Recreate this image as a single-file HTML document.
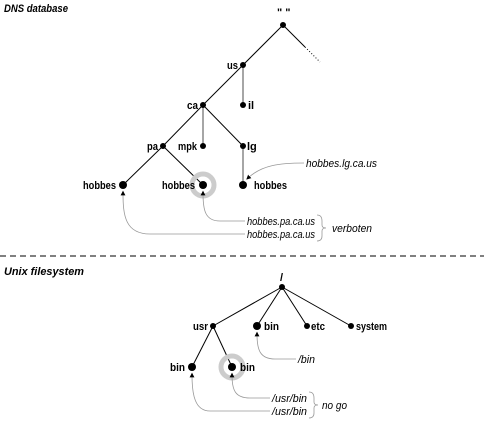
<!DOCTYPE html>
<html><head><style>body{margin:0;background:#fff}svg{display:block}
text{font-family:"Liberation Sans",sans-serif;font-size:11px}
.b{font-weight:bold}.i{font-style:italic}</style></head><body>
<svg width="484" height="421" viewBox="0 0 484 421">
<defs><marker id="a" markerWidth="6" markerHeight="6" refX="3" refY="3" orient="auto"><path d="M0,0L6,3L0,6z" fill="#000"/></marker></defs>
<text x="4" y="12" class="b i" textLength="64" lengthAdjust="spacingAndGlyphs">DNS database</text>
<text x="4" y="275" class="b i" textLength="80" lengthAdjust="spacingAndGlyphs">Unix filesystem</text>
<line x1="0" y1="256" x2="484" y2="256" stroke="#000" stroke-dasharray="6,4"/>
<g stroke="#000" stroke-width="1">
<line x1="283" y1="25" x2="243" y2="65"/><line x1="243" y1="65" x2="203" y2="105"/>
<line x1="203" y1="105" x2="163" y2="146"/><line x1="203" y1="105" x2="243" y2="146"/>
<line x1="163" y1="146" x2="123" y2="185"/><line x1="163" y1="146" x2="203" y2="185"/>
<line x1="283" y1="25" x2="305" y2="47"/><line x1="305" y1="47" x2="320" y2="62" stroke-dasharray="1,2"/>
<line x1="282" y1="287" x2="213" y2="326"/><line x1="282" y1="287" x2="257" y2="326"/>
<line x1="282" y1="287" x2="307" y2="326"/><line x1="282" y1="287" x2="351" y2="326"/>
<line x1="213" y1="326" x2="192" y2="367"/><line x1="213" y1="326" x2="232" y2="367"/>
</g>
<g stroke="#888" stroke-width="1.5">
<line x1="243" y1="65" x2="243" y2="105"/><line x1="203" y1="105" x2="203" y2="146"/><line x1="243" y1="146" x2="243" y2="185"/>
</g>
<circle cx="203" cy="185" r="11" fill="none" stroke="#ccc" stroke-width="5"/>
<circle cx="232" cy="367" r="11" fill="none" stroke="#ccc" stroke-width="5"/>
<g fill="#000">
<circle cx="283" cy="25" r="3"/><circle cx="243" cy="65" r="3"/><circle cx="243" cy="105" r="3"/><circle cx="203" cy="105" r="3"/>
<circle cx="163" cy="146" r="3"/><circle cx="203" cy="146" r="3"/><circle cx="243" cy="146" r="3"/>
<circle cx="123" cy="185" r="4"/><circle cx="203" cy="185" r="4"/><circle cx="243" cy="185" r="4"/>
<circle cx="282" cy="287" r="3"/><circle cx="213" cy="326" r="3"/><circle cx="257" cy="326" r="4"/><circle cx="307" cy="326" r="3"/><circle cx="351" cy="326" r="3"/>
<circle cx="192" cy="367" r="4"/><circle cx="232" cy="367" r="4"/>
</g>
<g class="b">
<text x="277" y="16" class="b">" "</text>
<text x="227" y="69" class="b" textLength="11" lengthAdjust="spacingAndGlyphs">us</text>
<text x="248" y="109" class="b">il</text>
<text x="187" y="109" class="b" textLength="11" lengthAdjust="spacingAndGlyphs">ca</text>
<text x="147" y="150" class="b" textLength="11" lengthAdjust="spacingAndGlyphs">pa</text>
<text x="178" y="150" class="b" textLength="19" lengthAdjust="spacingAndGlyphs">mpk</text>
<text x="247" y="150" class="b">lg</text>
<text x="83" y="189" class="b" textLength="33" lengthAdjust="spacingAndGlyphs">hobbes</text>
<text x="162" y="189" class="b" textLength="33" lengthAdjust="spacingAndGlyphs">hobbes</text>
<text x="254" y="189" class="b" textLength="33" lengthAdjust="spacingAndGlyphs">hobbes</text>
<text x="280" y="281" class="b">/</text>
<text x="193" y="330" class="b" textLength="15" lengthAdjust="spacingAndGlyphs">usr</text>
<text x="264" y="330" class="b" textLength="15" lengthAdjust="spacingAndGlyphs">bin</text>
<text x="311" y="330" class="b" textLength="14" lengthAdjust="spacingAndGlyphs">etc</text>
<text x="356" y="330" class="b" textLength="31" lengthAdjust="spacingAndGlyphs">system</text>
<text x="170" y="371" class="b" textLength="15" lengthAdjust="spacingAndGlyphs">bin</text>
<text x="240" y="371" class="b" textLength="15" lengthAdjust="spacingAndGlyphs">bin</text>
</g>
<g fill="none" stroke="#999" stroke-width="0.8" marker-end="url(#a)">
<path d="M304,163 C280,163 262,165 248,178"/>
<path d="M245,221 L220,221 C205,221 203,210 203,193"/>
<path d="M245,234 L150,234 C125,234 123,215 123,193"/>
<path d="M296,359 L275,359 C260,359 257,350 257,334"/>
<path d="M270,398 L250,398 C235,398 232,390 232,375"/>
<path d="M270,411 L210,411 C195,411 192,395 192,375"/>
</g>
<g fill="none" stroke="#999" stroke-width="0.8">
<path d="M317,215 Q322,215 322,221 L322,225 Q322,228 326,228 Q322,228 322,231 L322,236 Q322,241 317,241"/>
<path d="M309,392 Q314,392 314,398 L314,402 Q314,405 318,405 Q314,405 314,408 L314,413 Q314,418 309,418"/>
</g>
<g class="i">
<text x="306" y="167" class="i" textLength="71" lengthAdjust="spacingAndGlyphs">hobbes.lg.ca.us</text>
<text x="247" y="225" class="i" textLength="68" lengthAdjust="spacingAndGlyphs">hobbes.pa.ca.us</text>
<text x="247" y="238" class="i" textLength="68" lengthAdjust="spacingAndGlyphs">hobbes.pa.ca.us</text>
<text x="332" y="232" class="i" textLength="40" lengthAdjust="spacingAndGlyphs">verboten</text>
<text x="298" y="363" class="i" textLength="17" lengthAdjust="spacingAndGlyphs">/bin</text>
<text x="272" y="402" class="i" textLength="35" lengthAdjust="spacingAndGlyphs">/usr/bin</text>
<text x="272" y="415" class="i" textLength="35" lengthAdjust="spacingAndGlyphs">/usr/bin</text>
<text x="322" y="409" class="i" textLength="25" lengthAdjust="spacingAndGlyphs">no go</text>
</g>
</svg></body></html>
